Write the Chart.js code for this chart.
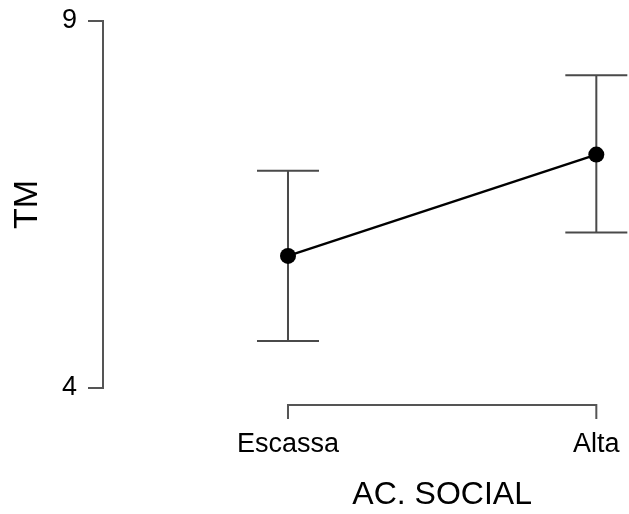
<!DOCTYPE html>
<html lang="en">
<head>
    <meta charset="UTF-8">
    <title>TM vs AC. SOCIAL</title>
    <style>
        body { margin: 0; background: #ffffff; }
        #wrap { width: 629px; height: 514px; }
    </style>
    <script src="https://cdn.jsdelivr.net/npm/chart.js"></script>
</head>
<body>
    <div id="wrap"><canvas id="myChart"></canvas></div>
    <script>
        // data
        const groups = ['Escassa', 'Alta'];
        const means = [5.80, 7.18];
        const lower = [4.64, 6.12];
        const upper = [6.96, 8.26];
        const yTicks = [4, 9];
        const xTitle = 'AC. SOCIAL';

        const axisColor = '#555555';
        const fontFamily = "'Liberation Sans', Arial, sans-serif";

        // error bars with caps, drawn under the points
        const errorBars = {
            id: 'errorBars',
            beforeDatasetsDraw(chart) {
                const { ctx, scales: { x, y } } = chart;
                ctx.save();
                ctx.strokeStyle = '#4a4a4a';
                ctx.lineWidth = 2;
                groups.forEach((g, i) => {
                    const px = x.getPixelForValue(i + 1);
                    const top = y.getPixelForValue(upper[i]);
                    const bot = y.getPixelForValue(lower[i]);
                    ctx.beginPath();
                    ctx.moveTo(px, top); ctx.lineTo(px, bot);
                    ctx.moveTo(px - 31, top); ctx.lineTo(px + 31, top);
                    ctx.moveTo(px - 31, bot); ctx.lineTo(px + 31, bot);
                    ctx.stroke();
                });
                ctx.restore();
            }
        };

        // R-style detached x axis: line only between first and last tick,
        // with the axis title centred under that span
        const xBracket = {
            id: 'xBracket',
            afterDraw(chart) {
                const { ctx, chartArea, scales: { x } } = chart;
                const y0 = chartArea.bottom + 17;
                const x1 = x.getPixelForValue(1);
                const x2 = x.getPixelForValue(groups.length);
                ctx.save();
                ctx.strokeStyle = axisColor;
                ctx.lineWidth = 2;
                ctx.beginPath();
                ctx.moveTo(x1, y0 + 14); ctx.lineTo(x1, y0);
                ctx.lineTo(x2, y0); ctx.lineTo(x2, y0 + 14);
                ctx.stroke();

                ctx.fillStyle = '#000000';
                ctx.font = '32px ' + fontFamily;
                ctx.textAlign = 'center';
                ctx.textBaseline = 'middle';
                ctx.fillText(xTitle, (x1 + x2) / 2, x.bottom - 19);
                ctx.restore();
            }
        };

        new Chart(document.getElementById('myChart'), {
            type: 'line',
            data: {
                datasets: [{
                    data: means.map((m, i) => ({ x: i + 1, y: m })),
                    borderColor: '#000000',
                    borderWidth: 2.5,
                    pointRadius: 8,
                    pointBackgroundColor: '#000000',
                    pointBorderWidth: 0,
                    tension: 0
                }]
            },
            options: {
                responsive: true,
                maintainAspectRatio: false,
                animation: false,
                layout: { padding: { top: 21, right: 9, bottom: 0, left: 0 } },
                plugins: { legend: { display: false }, tooltip: { enabled: false } },
                scales: {
                    x: {
                        type: 'linear',
                        min: 0.4,
                        max: 2.0768,
                        afterBuildTicks: s => { s.ticks = groups.map((g, i) => ({ value: i + 1 })); },
                        afterFit: s => {
                            s.height = 126;
                            s.paddingLeft = 0;
                            s.paddingRight = 0;
                        },
                        grid: { display: false },
                        border: { display: false },
                        ticks: {
                            callback: v => groups[v - 1],
                            autoSkip: false,
                            maxRotation: 0,
                            padding: 32,
                            color: '#000000',
                            font: { family: fontFamily, size: 27 }
                        }
                    },
                    y: {
                        min: 4,
                        max: 9,
                        afterBuildTicks: s => { s.ticks = yTicks.map(v => ({ value: v })); },
                        afterFit: s => {
                            s.width = 103;
                            s.paddingTop = 0;
                            s.paddingBottom = 0;
                        },
                        grid: {
                            drawOnChartArea: false,
                            drawTicks: true,
                            tickLength: 15,
                            color: axisColor,
                            lineWidth: 2
                        },
                        border: { display: true, color: axisColor, width: 2 },
                        ticks: {
                            padding: 11,
                            color: '#000000',
                            font: { family: fontFamily, size: 27 }
                        },
                        title: {
                            display: true,
                            text: 'TM',
                            color: '#000000',
                            font: { family: fontFamily, size: 34 },
                            padding: { top: 7, bottom: 0 }
                        }
                    }
                }
            },
            plugins: [errorBars, xBracket]
        });
    </script>
</body>
</html>
